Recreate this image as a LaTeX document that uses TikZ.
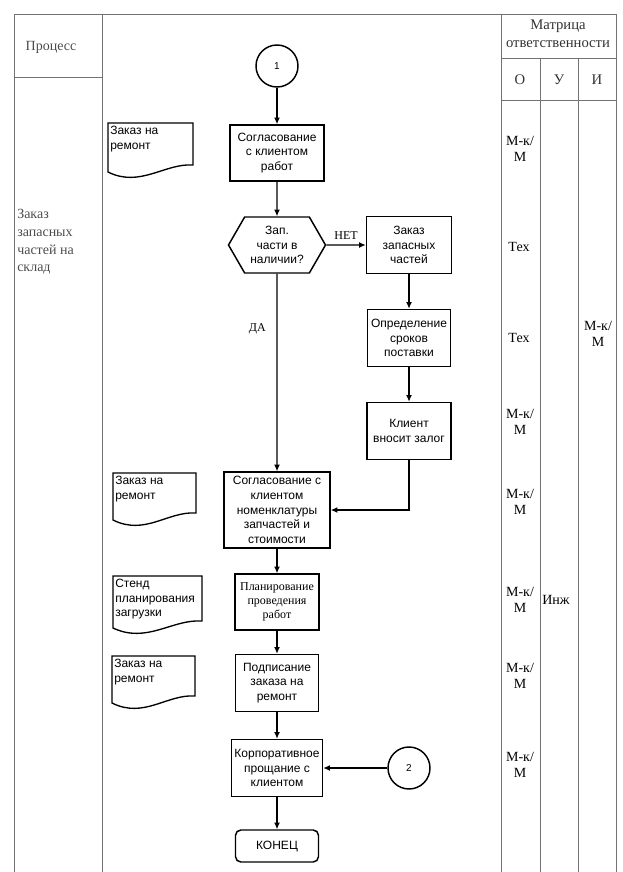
\documentclass[tikz,border=0pt]{standalone}
\usepackage{fontspec}
\setmainfont{Liberation Serif}
\setsansfont{Liberation Sans}
\usetikzlibrary{arrows.meta}
\usetikzlibrary{shapes.symbols}

\tikzset{
  grid line/.style={draw=black!55, line width=0.6pt},
  box/.style={draw, line width=1.1pt, align=center, inner sep=1pt,
    font=\sffamily\fontsize{9}{11}\selectfont},
  serif box/.style={box, font=\fontsize{9}{10.5}\selectfont},
  decision/.style={box, shape=signal, signal to=east and west,
    signal pointer angle=120},
  terminal/.style={box, rounded corners=4pt},
  connector/.style={draw, circle, line width=1.1pt, minimum size=31.5pt,
    inner sep=0pt, font=\sffamily\fontsize{7.5}{8}\selectfont},
  flow/.style={line width=1pt, ->},
  doc line/.style={line width=1pt},
  doc text/.style={align=left, inner sep=1.5pt, anchor=north west,
    font=\sffamily\fontsize{9}{11}\selectfont},
  resp text/.style={align=center, inner sep=0pt,
    font=\fontsize{10.5}{12.5}\selectfont},
  head text/.style={align=center, inner sep=0pt, text=black!80,
    font=\fontsize{11}{13.5}\selectfont},
  side text/.style={text=black!70, align=left, inner sep=0pt,
    font=\fontsize{10.5}{13.3}\selectfont}
}

\begin{document}
\begin{tikzpicture}[x=0.75pt, y=-0.75pt, >={Latex[length=5pt,width=4.5pt]}]
\useasboundingbox (0,0) rectangle (623,872);
% table frame
\draw[grid line] (14,872) -- (14,14) -- (616,14) -- (616,872);
\draw[grid line] (102,14) -- (102,872);
\draw[grid line] (14,77) -- (102,77);
\draw[grid line] (501,14) -- (501,872);
\draw[grid line] (501,58) -- (616,58);
\draw[grid line] (501,100) -- (616,100);
\draw[grid line] (540,58) -- (540,872);
\draw[grid line] (578,58) -- (578,872);

% headers
\node[side text] (process) at (51,47) {Процесс};
\node[side text, anchor=west] (stage) at (17,242) {Заказ\\запасных\\частей на\\склад};
\node[head text] (matrixhead) at (558,34) {Матрица\\ответственности};
\node[head text] (colO) at (520,80) {О};
\node[head text] (colU) at (559,80) {У};
\node[head text] (colI) at (597,80) {И};

% flow
\node[connector] (start) at (277,66) {1};
\node[box, minimum width=70.5pt, minimum height=42pt] (agree) at (277,153) {Согласование\\с клиентом\\работ};
\node[decision, minimum width=72.75pt, minimum height=42pt] (stock) at (277,245) {Зап.\\части в\\наличии?};
\node[box, minimum width=63.75pt, minimum height=42.75pt] (order) at (409,245) {Заказ\\запасных\\частей};
\node[box, minimum width=62.25pt, minimum height=42.75pt] (terms) at (409,338) {Определение\\сроков\\поставки};
\node[box, minimum width=63pt, minimum height=42.75pt] (deposit) at (409,431) {Клиент\\вносит залог};
\node[box, minimum width=79.5pt, minimum height=57pt] (nomencl) at (277,510) {Согласование с\\клиентом\\номенклатуры\\запчастей и\\стоимости};
\node[serif box, minimum width=63pt, minimum height=42pt] (plan) at (277,602) {Планирование\\проведения\\работ};
\node[box, minimum width=62.25pt, minimum height=42.75pt] (sign) at (277,683) {Подписание\\заказа на\\ремонт};
\node[box, minimum width=68.25pt, minimum height=42.75pt] (farewell) at (277,768) {Корпоративное\\прощание с\\клиентом};
\node[terminal, minimum width=62.25pt, minimum height=24pt] (finish) at (277,846) {КОНЕЦ};
\node[connector] (resume) at (409,768) {2};

\draw[flow] (start) -- (agree);
\draw[flow] (agree) -- (stock);
\draw[flow] (stock) -- node[above, font=\fontsize{9}{10}\selectfont] {НЕТ} (order);
\draw[flow] (stock) -- node[left, pos=0.28, inner sep=8pt, font=\fontsize{9}{10}\selectfont] {ДА} (nomencl);
\draw[flow] (order) -- (terms);
\draw[flow] (terms) -- (deposit);
\draw[flow] (deposit) |- (nomencl);
\draw[flow] (nomencl) -- (plan);
\draw[flow] (plan) -- (sign);
\draw[flow] (sign) -- (farewell);
\draw[flow] (farewell) -- (finish);
\draw[flow] (resume) -- (farewell);

% documents
\draw[doc line] (108,123) -- (193,123) -- (193,165) .. controls (165,163) and (140,188) .. (108,172) -- cycle;
\node[doc text] (doc1) at (108,124) {Заказ на\\ремонт};
\draw[doc line] (113,473) -- (196,473) -- (196,513) .. controls (168,511) and (145,536) .. (113,520) -- cycle;
\node[doc text] (doc2) at (113,474) {Заказ на\\ремонт};
\draw[doc line] (113,576) -- (202,576) -- (202,621) .. controls (172,619) and (147,644) .. (113,628) -- cycle;
\node[doc text] (doc3) at (113,577) {Стенд\\планирования\\загрузки};
\draw[doc line] (112,656) -- (195,656) -- (195,696) .. controls (167,694) and (144,719) .. (112,703) -- cycle;
\node[doc text] (doc4) at (112,657) {Заказ на\\ремонт};

% responsibility matrix
\node[resp text] (r1) at (520,149) {М-к/\\М};
\node[resp text] (r2) at (519,247) {Тех};
\node[resp text] (r3) at (519,338) {Тех};
\node[resp text] (r3i) at (598,334) {М-к/\\М};
\node[resp text] (r4) at (520,422) {М-к/\\М};
\node[resp text] (r5) at (520,502) {М-к/\\М};
\node[resp text] (r6) at (520,600) {М-к/\\М};
\node[resp text] (r6u) at (556,600) {Инж};
\node[resp text] (r7) at (520,676) {М-к/\\М};
\node[resp text] (r8) at (520,765) {М-к/\\М};
\end{tikzpicture}
\end{document}
